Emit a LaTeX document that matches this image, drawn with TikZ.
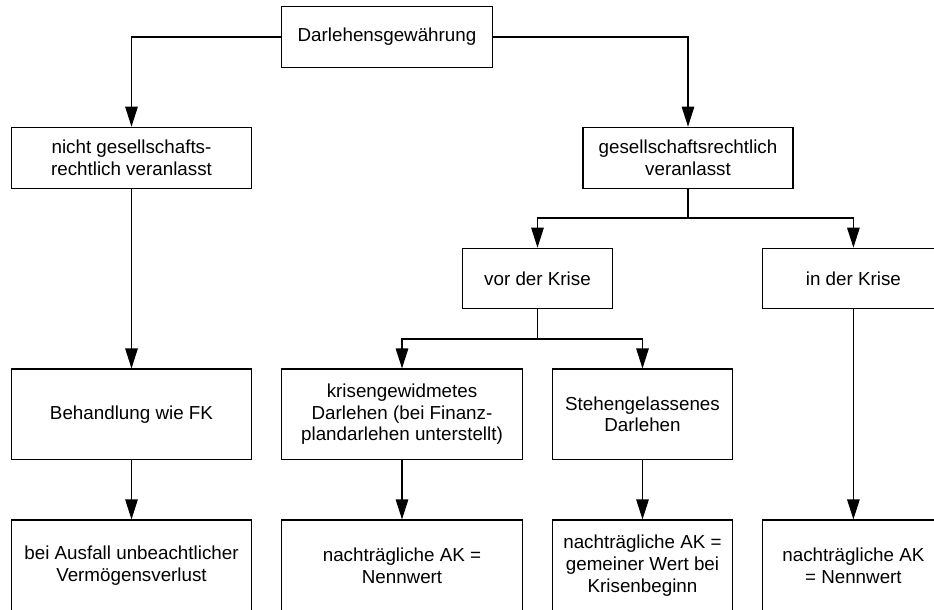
\documentclass[tikz,border=0pt]{standalone}
\usepackage{fontspec}
\setmainfont{Liberation Sans}
\usetikzlibrary{arrows.meta}
\tikzset{
  box/.style={draw, line width=1.2pt, inner sep=0pt, align=center,
    font=\fontsize{18.8}{21.7}\selectfont, anchor=center},
  arr/.style={line width=1.2pt, -{Triangle[length=20pt,width=12.5pt]}},
  ln/.style={line width=1.2pt}
}
\begin{document}
\begin{tikzpicture}[x=1pt,y=-1pt]
\useasboundingbox (0,0) rectangle (934,610);
\clip (0,0) rectangle (934,610);
% row 1
\node[box, minimum width=211pt, minimum height=60.5pt] (top) at (387,37) {Darlehensgewährung};
% row 2
\node[box, minimum width=240.4pt, minimum height=61pt] (A) at (131.5,157.8) {nicht gesellschafts-\\rechtlich veranlasst};
\node[box, minimum width=210pt, minimum height=61pt] (B) at (688,157.8) {gesellschaftsrechtlich\\veranlasst};
% row 2b
\node[box, minimum width=150.7pt, minimum height=60.4pt] (C) at (537.5,278.5) {vor der Krise};
\node[box, minimum width=181.4pt, minimum height=60.4pt] (D) at (853.4,278.5) {in der Krise};
% row 3
\node[box, minimum width=240.4pt, minimum height=90.3pt] (G) at (131.5,414.2) {Behandlung wie FK};
\node[box, minimum width=240.6pt, minimum height=90.3pt] (E) at (402,414.2) {krisengewidmetes\\Darlehen (bei Finanz-\\plandarlehen unterstellt)};
\node[box, minimum width=180pt, minimum height=90.3pt] (F) at (642.5,414.2) {Stehengelassenes\\Darlehen};
% row 4
\node[box, minimum width=240.4pt, minimum height=91pt] (H) at (131.5,565.5) {bei Ausfall unbeachtlicher\\Vermögensverlust};
\node[box, minimum width=240.6pt, minimum height=91pt] (I) at (402,565.5) {nachträgliche AK =\\Nennwert};
\node[box, minimum width=180pt, minimum height=91pt] (J) at (642.5,565.5) {nachträgliche AK =\\gemeiner Wert bei\\Krisenbeginn};
\node[box, minimum width=181.4pt, minimum height=91pt] (K) at (853.4,565.5) {nachträgliche AK\\= Nennwert};
% connectors
\draw[arr] (top.west) -| (A.north);
\draw[arr] (top.east) -| (B.north);
\coordinate (b1) at (688,218);
\draw[ln] (B.south) -- (b1);
\draw[arr] (b1) -| (C.north);
\draw[arr] (b1) -| (D.north);
\coordinate (c1) at (537.5,339);
\draw[ln] (C.south) -- (c1);
\draw[arr] (c1) -| (E.north);
\draw[arr] (c1) -| (F.north);
\draw[arr] (A.south) -- (G.north);
\draw[arr] (G.south) -- (H.north);
\draw[arr] (E.south) -- (I.north);
\draw[arr] (F.south) -- (J.north);
\draw[arr] (D.south) -- (K.north);
\end{tikzpicture}
\end{document}
